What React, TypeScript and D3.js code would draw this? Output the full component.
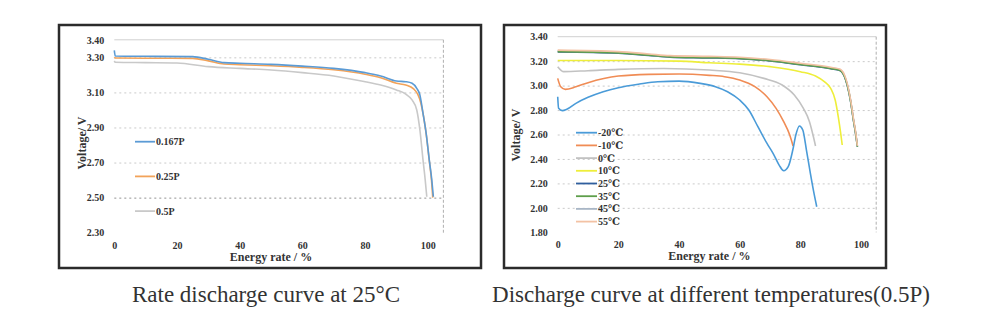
import React, { useEffect, useRef } from 'react';
import * as d3 from 'd3';

type Pt = [number, number];

// x ticks shared by both panels (Energy rate %)
const xTicks = [0, 20, 40, 60, 80, 100];

// --- left panel: rate discharge at 25°C ---
const rateLabels = ['0.167P', '0.25P', '0.5P'];
const rateColors = ['#5b9bd5', '#f2a35a', '#c9c9c9'];
const rateYTicks = [2.3, 2.5, 2.7, 2.9, 3.1, 3.3];

const rate0167: Pt[] = [
  [0, 3.34], [0.3, 3.308], [10, 3.306], [25, 3.304], [30, 3.289], [35, 3.27], [40, 3.266],
  [50, 3.26], [60, 3.25], [70, 3.237], [80, 3.213], [85, 3.194], [90, 3.165], [93, 3.161],
  [95, 3.152], [96.5, 3.123], [97.5, 3.085], [98.5, 2.98], [99.5, 2.867], [100.5, 2.714],
  [101.3, 2.6], [101.8, 2.505],
];
const rate025: Pt[] = [
  [0, 3.3], [0.3, 3.296], [10, 3.295], [25, 3.294], [30, 3.28], [35, 3.262], [40, 3.258],
  [50, 3.252], [60, 3.243], [70, 3.229], [80, 3.204], [85, 3.184], [90, 3.152], [93, 3.142],
  [95.5, 3.12], [96.8, 3.09], [97.8, 3.04], [98.7, 2.96], [99.6, 2.85], [100.5, 2.71],
  [101.2, 2.6], [101.6, 2.5],
];
const rate05: Pt[] = [
  [0, 3.28], [0.3, 3.272], [10, 3.27], [20, 3.268], [30, 3.247], [40, 3.237], [50, 3.228],
  [60, 3.213], [70, 3.194], [80, 3.161], [85, 3.142], [90, 3.114], [93, 3.09], [95, 3.057],
  [96.5, 3.0], [97.5, 2.886], [98.5, 2.714], [99.2, 2.6], [99.7, 2.505],
];
const rateSeries = [rate0167, rate025, rate05];

// --- right panel: discharge at different temperatures (0.5P) ---
const tempLabels = ['-20℃', '-10℃', '0℃', '10℃', '25℃', '35℃', '45℃', '55℃'];
const tempColors = ['#4a9bd8', '#f08c55', '#c2c2c2', '#eeee3a', '#2f5e9e', '#5e9e4a', '#a9b6c6', '#f3c2a4'];
const tempYTicks = [1.8, 2.0, 2.2, 2.4, 2.6, 2.8, 3.0, 3.2, 3.4];

const tM20: Pt[] = [
  [0, 2.909], [0.3, 2.814], [1.5, 2.795], [3, 2.806], [6, 2.855], [10, 2.904], [15, 2.95],
  [20, 2.983], [27, 3.013], [33, 3.032], [40, 3.037], [47, 3.018], [52, 2.991], [56, 2.95],
  [60, 2.882], [63, 2.8], [66, 2.664], [69, 2.527], [71, 2.446], [73, 2.35], [74.5, 2.304],
  [76, 2.337], [77.5, 2.473], [78.5, 2.596], [79.7, 2.67], [80.8, 2.637], [82, 2.473],
  [83.3, 2.282], [84.5, 2.118], [85.4, 2.009],
];
const tM10: Pt[] = [
  [0, 3.059], [1, 2.99], [2.5, 2.969], [6, 2.99], [10, 3.024], [20, 3.078], [30, 3.092],
  [40, 3.095], [50, 3.084], [55, 3.073], [60, 3.046], [65, 2.991], [69, 2.909], [72, 2.814],
  [74.5, 2.705], [76.5, 2.596], [77.6, 2.506],
];
const t0: Pt[] = [
  [0, 3.155], [2, 3.114], [10, 3.122], [20, 3.133], [35, 3.14], [50, 3.127], [60, 3.105],
  [68, 3.059], [74, 3.005], [78, 2.923], [81, 2.814], [83, 2.705], [84.3, 2.582], [85, 2.506],
];
const t10: Pt[] = [
  [0, 3.205], [20, 3.205], [40, 3.2], [50, 3.187], [60, 3.176], [70, 3.155], [80, 3.114],
  [85, 3.078], [88, 3.03], [90, 2.977], [91.5, 2.88], [92.5, 2.745], [93.3, 2.61], [93.8, 2.514],
];
const t25: Pt[] = [
  [0, 3.276], [20, 3.266], [30, 3.247], [37, 3.233], [50, 3.227], [60, 3.22], [70, 3.201],
  [80, 3.171], [90, 3.138], [93, 3.124], [95, 3.042], [96.5, 2.879], [97.5, 2.715], [98.3, 2.593],
  [98.8, 2.5],
];
const t35: Pt[] = [
  [0, 3.278], [20, 3.268], [30, 3.249], [37, 3.235], [50, 3.229], [60, 3.222], [70, 3.203],
  [80, 3.173], [90, 3.14], [93, 3.126], [95, 3.044], [96.5, 2.881], [97.5, 2.717], [98.3, 2.595],
  [98.8, 2.5],
];
const t45: Pt[] = [
  [0, 3.282], [20, 3.272], [30, 3.253], [37, 3.239], [50, 3.233], [60, 3.226], [70, 3.207],
  [80, 3.177], [90, 3.144], [93, 3.13], [95, 3.05], [96.5, 2.888], [97.5, 2.724], [98.3, 2.6],
  [98.8, 2.502],
];
const t55: Pt[] = [
  [0, 3.29], [20, 3.278], [30, 3.259], [37, 3.245], [50, 3.239], [60, 3.232], [70, 3.213],
  [80, 3.183], [90, 3.15], [93, 3.135], [95, 3.057], [96.5, 2.894], [97.5, 2.73], [98.3, 2.607],
  [98.8, 2.507],
];
const tempSeries = [tM20, tM10, t0, t10, t25, t35, t45, t55];
// paint order: cluster at top with warm/green on top, cold curves last
const tempOrder = [4, 6, 5, 7, 3, 2, 1, 0];

const serif = '"Liberation Serif", "DejaVu Serif", serif';

const App = () => {
  const svgRef = useRef<SVGSVGElement>(null);

  useEffect(() => {
    const svg = d3.select(svgRef.current);
    svg.selectAll('*').remove();

    const label = (sel: any, size: number, bold = true) =>
      sel.style('font-family', serif)
        .style('font-weight', bold ? 'bold' : 'normal')
        .style('font-size', `${size}px`)
        .attr('fill', '#333');

    const drawPanel = (opt: any) => {
      const { frame, x, y, yTicks, series, colors, labels, legend, yTitle, order, darkGrid } = opt;
      const g = svg.append('g');

      g.append('rect')
        .attr('x', frame[0]).attr('y', frame[1])
        .attr('width', frame[2] - frame[0]).attr('height', frame[3] - frame[1])
        .attr('fill', '#fff').attr('stroke', '#2b2b2b').attr('stroke-width', 2.5);

      const [x0, x1] = x.range();
      const [yb, yt] = y.range();

      // gridlines (dashed, faint)
      g.append('g')
        .attr('transform', `translate(${x0},0)`)
        .call(d3.axisLeft(y).tickValues(yTicks.slice(1, -1)).tickSize(-(x1 - x0)).tickFormat(() => ''))
        .call(s => s.select('.domain').remove())
        .selectAll('line')
        .attr('stroke', (d: number) => (d === darkGrid ? '#777' : '#bdbdbd'))
        .attr('stroke-width', 0.8).attr('stroke-dasharray', '2,3');

      // top line + right dashed edge
      g.append('line').attr('x1', x0).attr('x2', x1).attr('y1', yt).attr('y2', yt)
        .attr('stroke', '#d0d0d0').attr('stroke-width', 1);
      g.append('line').attr('x1', x1).attr('x2', x1).attr('y1', yt).attr('y2', yb)
        .attr('stroke', '#9a9a9a').attr('stroke-width', 0.8).attr('stroke-dasharray', '3,2');

      // y tick labels
      const ya = g.append('g')
        .attr('transform', `translate(${x0},0)`)
        .call(d3.axisLeft(y).tickValues(yTicks).tickSize(0).tickPadding(10).tickFormat(d3.format('.2f')));
      ya.select('.domain').remove();
      label(ya.selectAll('text'), 10);

      // x tick labels
      const xa = g.append('g')
        .attr('transform', `translate(0,${yb})`)
        .call(d3.axisBottom(x).tickValues(xTicks).tickSize(0).tickPadding(9).tickFormat(d3.format('d')));
      xa.select('.domain').remove();
      label(xa.selectAll('text'), 10);

      label(g.append('text')
        .attr('x', x(50)).attr('y', yb + 28)
        .attr('text-anchor', 'middle'), 12)
        .text('Energy rate / %');

      label(g.append('text')
        .attr('transform', `translate(${yTitle[0]},${yTitle[1]}) rotate(-90)`)
        .attr('text-anchor', 'middle').attr('dy', '0.35em'), 12)
        .text('Voltage/ V');

      const line = d3.line<Pt>().x(d => x(d[0])).y(d => y(d[1])).curve(d3.curveMonotoneX);
      order.forEach((i: number) => {
        g.append('path')
          .datum(series[i])
          .attr('d', line)
          .attr('fill', 'none')
          .attr('stroke', colors[i])
          .attr('stroke-width', 1.6);
      });

      // legend
      labels.forEach((lab: string, i: number) => {
        const ly = legend.y + i * legend.step;
        g.append('line')
          .attr('x1', legend.x).attr('x2', legend.x + legend.len)
          .attr('y1', ly).attr('y2', ly)
          .attr('stroke', colors[i]).attr('stroke-width', 1.8);
        label(g.append('text')
          .attr('x', legend.x + legend.len + 1).attr('y', ly).attr('dy', '0.35em'), 10)
          .text(lab);
      });
    };

    drawPanel({
      frame: [59, 25, 481, 268],
      x: d3.scaleLinear().domain([0, 105]).range([114.3, 443.4]),
      y: d3.scaleLinear().domain([2.3, 3.4]).range([232.7, 39.8]),
      yTicks: [...rateYTicks, 3.4],
      series: rateSeries,
      colors: rateColors,
      labels: rateLabels,
      legend: { x: 135, y: 141.7, step: 34.7, len: 20 },
      yTitle: [82, 143],
      order: [2, 1, 0],
      darkGrid: 2.5,
    });

    drawPanel({
      frame: [504, 25, 886, 268],
      x: d3.scaleLinear().domain([0, 105]).range([557.7, 876.2]),
      y: d3.scaleLinear().domain([1.8, 3.4]).range([232.3, 36.7]),
      yTicks: tempYTicks,
      series: tempSeries,
      colors: tempColors,
      labels: tempLabels,
      legend: { x: 576, y: 132.7, step: 12.7, len: 21 },
      yTitle: [516, 135],
      order: tempOrder,
      darkGrid: null,
    });

    const captions = [
      { t: 'Rate discharge curve at 25°C', x: 266 },
      { t: 'Discharge curve at different temperatures(0.5P)', x: 711 },
    ];
    captions.forEach(c => {
      label(svg.append('text')
        .attr('x', c.x).attr('y', 302)
        .attr('text-anchor', 'middle'), 23, false)
        .text(c.t);
    });
  }, []);

  return (
    <div style={{ position: 'absolute', left: 0, top: 0, width: 1000, height: 334, background: '#fff' }}>
      <svg ref={svgRef} width={1000} height={334}></svg>
    </div>
  );
};

export default App;
